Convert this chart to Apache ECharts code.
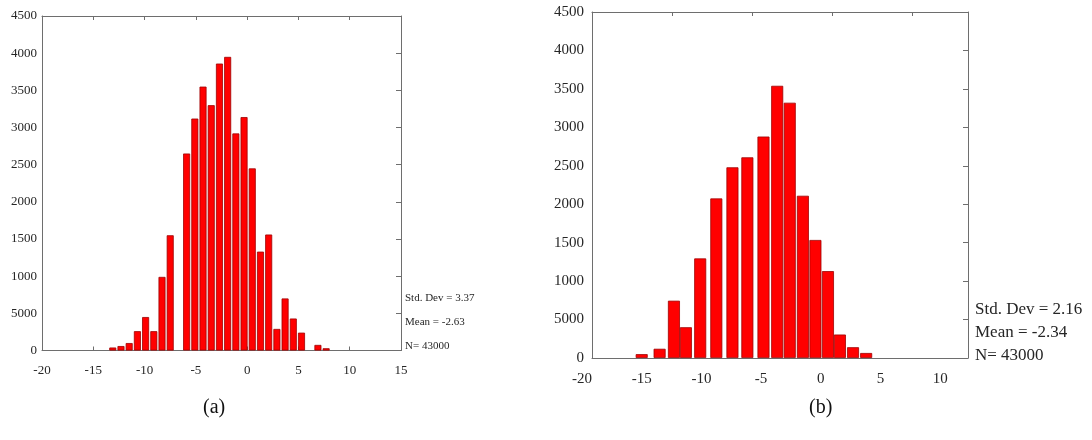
<!DOCTYPE html>
<html>
<head>
<meta charset="utf-8">
<script src="https://cdn.jsdelivr.net/npm/echarts@6/dist/echarts.min.js"></script>
<style>
html,body{margin:0;padding:0;background:#fff;}
#chart{width:1092px;height:440px;}
</style>
</head>
<body>
<div id="chart"></div>
<script>
// ---- Data ----
// Panel (a): bin centres and counts (empty bins omitted)
var binsA = [-13.1, -12.3, -11.5, -10.7, -9.9, -9.1, -8.3, -7.5, -5.9, -5.1, -4.3, -3.5, -2.7, -1.9, -1.1, -0.3, 0.5, 1.3, 2.1, 2.9, 3.7, 4.5, 5.3, 6.9, 7.7];
var countsA = [40, 60, 100, 260, 450, 260, 990, 1550, 2650, 3120, 3550, 3300, 3860, 3950, 2920, 3140, 2450, 1330, 1560, 290, 700, 430, 240, 75, 30];
// Panel (b): bin centres and counts
var binsB = [-15.0, -13.5, -12.3, -11.3, -10.1, -8.75, -7.4, -6.15, -4.8, -3.65, -2.6, -1.5, -0.45, 0.6, 1.6, 2.7, 3.8];
var countsB = [50, 120, 745, 400, 1295, 2075, 2480, 2610, 2880, 3540, 3320, 2110, 1535, 1130, 305, 140, 65];

// Tick labels (as printed in the original, including its "5000" at 500)
var yTickLabels = ['0', '5000', '1000', '1500', '2000', '2500', '3000', '3500', '4000', '4500'];
var xTickLabelsA = ['-20', '-15', '-10', '-5', '0', '5', '10', '15'];
var xTickLabelsB = ['-20', '-15', '-10', '-5', '0', '5', '10'];

// Annotations
var statsA = ['Std. Dev = 3.37', 'Mean = -2.63', 'N= 43000'];
var statsB = ['Std. Dev = 2.16', 'Mean = -2.34', 'N= 43000'];
var panelTitles = ['(a)', '(b)'];

// ---- Build chart ----
var FONT = "'Liberation Serif','DejaVu Serif',serif";
function pairs(xs, ys) { return xs.map(function (x, i) { return [x, ys[i]]; }); }
function yFmt(v) { var i = Math.round(v / 500); return (Math.abs(v - i * 500) < 1e-6 && yTickLabels[i] !== undefined) ? yTickLabels[i] : ''; }
function xFmt(list) {
  return function (v) { var s = String(Math.round(v)); return (Math.abs(v - Math.round(v)) < 1e-6 && list.indexOf(s) >= 0) ? s : ''; };
}
var lineStyle = { color: '#6e6e6e', width: 1 };
var barStyle = { color: '#ff0000', borderColor: '#9e0000', borderWidth: 0.8 };
var TXT = '#262626';

var chart = echarts.init(document.getElementById('chart'), null, { renderer: 'canvas' });
var option = {
  animation: false,
  backgroundColor: '#ffffff',
  grid: [
    { left: 42, top: 16, width: 359, height: 334.5 },      // (a)
    { left: 592, top: 12, width: 376, height: 346 },       // (b) frame
    { left: 582, top: 12, width: 386, height: 346 }        // (b) data
  ],
  xAxis: [
    { gridIndex: 0, type: 'value', position: 'bottom', min: -20, max: 15, interval: 5,
      axisLine: { show: true, onZero: false, lineStyle: lineStyle }, axisTick: { show: true, inside: true, length: 4, lineStyle: lineStyle },
      axisLabel: { formatter: xFmt(xTickLabelsA), fontFamily: FONT, fontSize: 13, color: TXT, margin: 14 },
      splitLine: { show: false } },
    { gridIndex: 0, type: 'value', position: 'top', min: -20, max: 15, interval: 5,
      axisLine: { show: true, onZero: false, lineStyle: lineStyle }, axisTick: { show: true, inside: true, length: 4, lineStyle: lineStyle },
      axisLabel: { show: false }, splitLine: { show: false } },
    { gridIndex: 1, type: 'value', position: 'bottom', min: 0, max: 1,
      axisLine: { show: true, onZero: false, lineStyle: lineStyle }, axisTick: { show: false },
      axisLabel: { show: false }, splitLine: { show: false } },
    { gridIndex: 1, type: 'value', position: 'top', min: 0, max: 4.7, interval: 1,
      axisLine: { show: true, onZero: false, lineStyle: lineStyle }, axisTick: { show: true, inside: true, length: 4, lineStyle: lineStyle },
      axisLabel: { show: false }, splitLine: { show: false } },
    { gridIndex: 2, type: 'value', position: 'bottom', min: -20, max: 12.33, interval: 5,
      axisLine: { show: false, onZero: false }, axisTick: { show: false },
      axisLabel: { formatter: xFmt(xTickLabelsB), showMaxLabel: false, fontFamily: FONT, fontSize: 15, color: TXT, margin: 14 },
      splitLine: { show: false } }
  ],
  yAxis: [
    { gridIndex: 0, type: 'value', position: 'left', min: 0, max: 4500, interval: 500,
      axisLine: { show: true, onZero: false, lineStyle: lineStyle }, axisTick: { show: false },
      axisLabel: { formatter: yFmt, fontFamily: FONT, fontSize: 13, color: TXT, margin: 5 },
      splitLine: { show: false } },
    { gridIndex: 0, type: 'value', position: 'right', min: 0, max: 4500, interval: 500,
      axisLine: { show: true, onZero: false, lineStyle: lineStyle }, axisTick: { show: true, inside: true, length: 5, lineStyle: lineStyle },
      axisLabel: { show: false }, splitLine: { show: false } },
    { gridIndex: 1, type: 'value', position: 'left', min: 0, max: 4500, interval: 500,
      axisLine: { show: true, onZero: false, lineStyle: lineStyle }, axisTick: { show: false },
      axisLabel: { formatter: yFmt, fontFamily: FONT, fontSize: 15, color: TXT, margin: 8 },
      splitLine: { show: false } },
    { gridIndex: 1, type: 'value', position: 'right', min: 0, max: 4500, interval: 500,
      axisLine: { show: true, onZero: false, lineStyle: lineStyle }, axisTick: { show: true, inside: true, length: 5, lineStyle: lineStyle },
      axisLabel: { show: false }, splitLine: { show: false } },
    { gridIndex: 2, type: 'value', min: 0, max: 4500, show: false }
  ],
  series: [
    { type: 'bar', xAxisIndex: 0, yAxisIndex: 0, barWidth: 7, itemStyle: barStyle,
      data: pairs(binsA, countsA), z: 3 },
    { type: 'bar', xAxisIndex: 4, yAxisIndex: 4, barWidth: 12, itemStyle: barStyle,
      data: pairs(binsB, countsB), z: 3 }
  ],
  graphic: []
};

statsA.forEach(function (t, i) {
  option.graphic.push({ type: 'text', left: 405, top: 293 + i * 24,
    style: { text: t, font: '11px ' + FONT, fill: TXT } });
});
statsB.forEach(function (t, i) {
  option.graphic.push({ type: 'text', left: 975, top: 301 + i * 23,
    style: { text: t, font: '17px ' + FONT, fill: TXT } });
});
option.graphic.push({ type: 'text', left: 203, top: 398, style: { text: panelTitles[0], font: '20px ' + FONT, fill: '#111' } });
option.graphic.push({ type: 'text', left: 809, top: 398, style: { text: panelTitles[1], font: '20px ' + FONT, fill: '#111' } });

chart.setOption(option);
</script>
</body>
</html>
